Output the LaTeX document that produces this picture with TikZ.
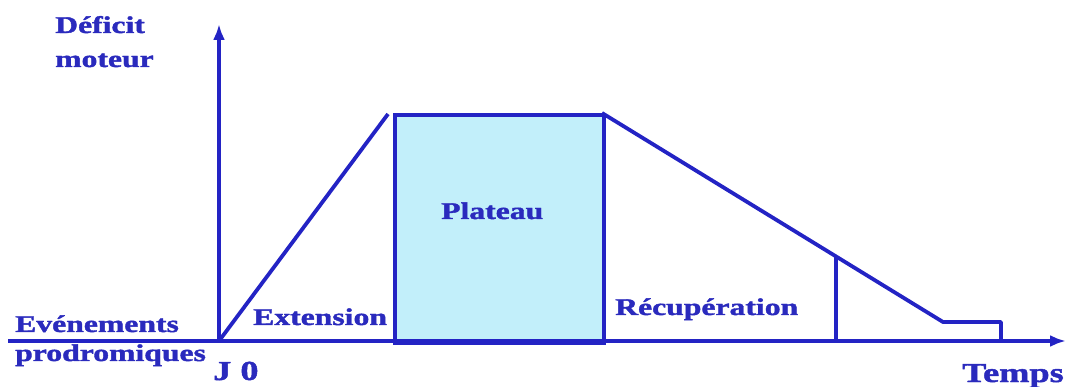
\documentclass[tikz,border=0pt]{standalone}
\usepackage{fontspec}
\usetikzlibrary{arrows.meta}
\newfontfamily\labfont[FakeStretch=1.32,BoldFeatures={FakeBold=1.6}]{Liberation Serif}
\definecolor{dblue}{HTML}{2323C4}
\definecolor{tblue}{HTML}{2A2ABD}
\definecolor{pcyan}{HTML}{C2EFFA}
\begin{document}
\begin{tikzpicture}[x=1pt,y=-1pt,
  lab/.style={text=tblue,inner sep=0pt,anchor=base west,font=\labfont\bfseries\fontsize{24}{28}\selectfont},
  biglab/.style={lab,font=\labfont\bfseries\fontsize{27.5}{32}\selectfont},
  axis/.style={draw=dblue,line width=3.2pt,-{Latex[length=16pt,width=12pt]}},
  curve/.style={draw=dblue,line width=3.8pt,line join=round},
  box/.style={draw=dblue,fill=pcyan,line width=3.8pt}]
\useasboundingbox (0,0) rectangle (1066,387);
% coordinates
\coordinate (O) at (219,341);
\coordinate (Ytop) at (219,24);
\coordinate (Xleft) at (8,341);
\coordinate (Xend) at (1066,341);
\coordinate (R1) at (388,114);
\coordinate (D1) at (602,113);
\coordinate (D2) at (943,322);
\coordinate (S1) at (1001,322);
\coordinate (S2) at (1001,341);
\coordinate (V1) at (836,257);
\coordinate (V2) at (836,341);
% plateau
\node[box,minimum width=209pt,minimum height=228pt,anchor=north west,inner sep=0pt] (plat) at (393,113) {};
% axes
\draw[axis] (Xleft) -- (Xend);
\draw[axis] (O) -- (Ytop);
% curve
\draw[curve] (O) -- (R1);
\draw[curve] (D1) -- (D2) -- (S1) -- (S2);
\draw[curve] (V1) -- (V2);
% labels
\node[lab] (l1) at (55,33) {Déficit};
\node[lab] (l2) at (55,67) {moteur};
\node[lab] (l3) at (15,332) {Evénements};
\node[lab] (l4) at (15,361) {prodromiques};
\node[biglab] (l5) at (213,380) {J 0};
\node[lab] (l6) at (253,325) {Extension};
\node[lab] (l7) at (441,219) {Plateau};
\node[lab] (l8) at (615,315) {Récupération};
\node[biglab] (l9) at (962,382) {Temps};
\end{tikzpicture}
\end{document}
